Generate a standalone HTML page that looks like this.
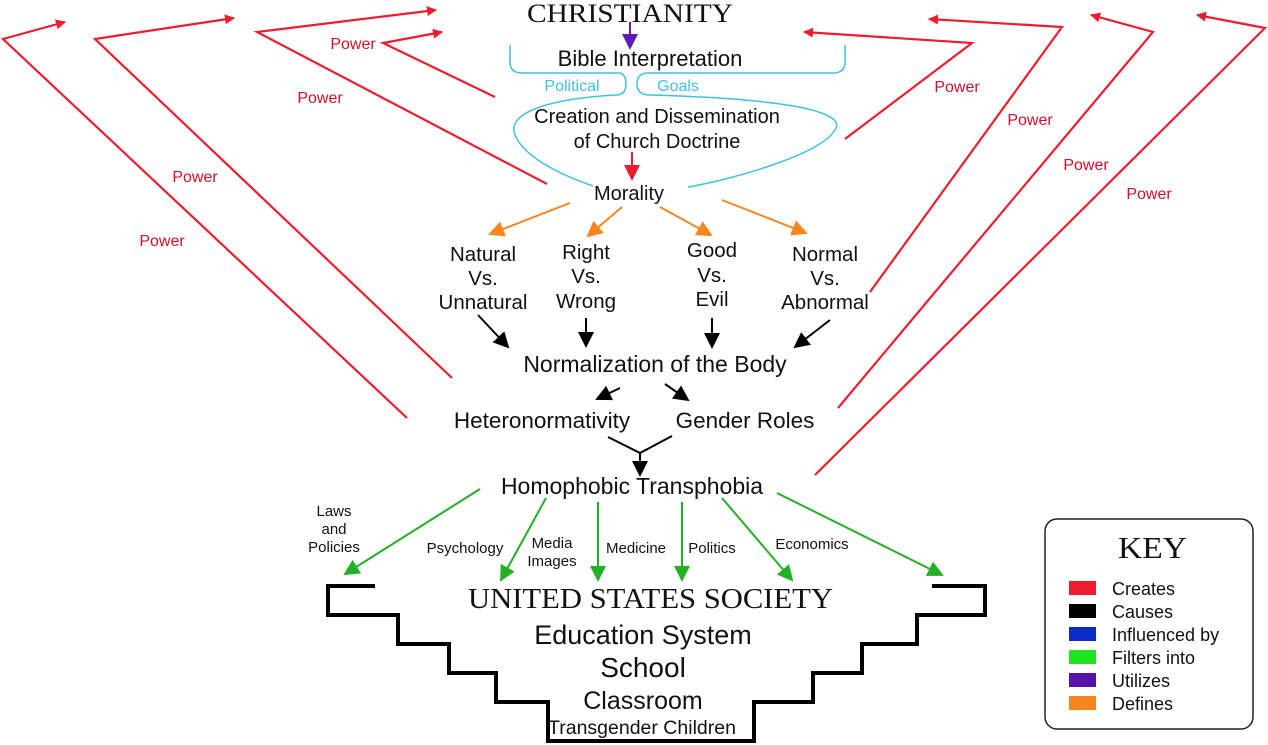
<!DOCTYPE html>
<html><head><meta charset="utf-8"><style>
html,body{margin:0;padding:0;background:#fff;}
svg{display:block;}
text{font-family:"Liberation Sans",sans-serif;fill:#111;}
.s{font-family:"Liberation Serif",serif;}
.p{fill:#d0102a;font-size:16px;}
</style></head><body>
<svg width="1268" height="745" viewBox="0 0 1268 745" xmlns="http://www.w3.org/2000/svg">
<defs>
<marker id="r" markerWidth="10" markerHeight="10" refX="9" refY="5" orient="auto" markerUnits="userSpaceOnUse"><path d="M0,0 L10,5 L0,10 z" fill="#ee1c2e"/></marker>
<marker id="o" markerWidth="16" markerHeight="16" refX="14" refY="8" orient="auto" markerUnits="userSpaceOnUse"><path d="M0,0 L16,8 L0,16 z" fill="#f7861f"/></marker>
<marker id="k" markerWidth="16" markerHeight="16" refX="14" refY="8" orient="auto" markerUnits="userSpaceOnUse"><path d="M0,0 L16,8 L0,16 z" fill="#000"/></marker>
<marker id="g" markerWidth="16" markerHeight="16" refX="14" refY="8" orient="auto" markerUnits="userSpaceOnUse"><path d="M0,0 L16,8 L0,16 z" fill="#22b024"/></marker>
<marker id="u" markerWidth="16" markerHeight="16" refX="14" refY="8" orient="auto" markerUnits="userSpaceOnUse"><path d="M0,0 L16,8 L0,16 z" fill="#5a1fb5"/></marker>
<marker id="rr" markerWidth="16" markerHeight="16" refX="14" refY="8" orient="auto" markerUnits="userSpaceOnUse"><path d="M0,0 L16,8 L0,16 z" fill="#ee1c2e"/></marker>
</defs>
<g fill="none" stroke="#ee1c2e" stroke-width="2.2">
<polyline points="407,418 3,39 65,22" marker-end="url(#r)"/>
<polyline points="452,378 95,39 234,18" marker-end="url(#r)"/>
<polyline points="547,184 257,32 436,10" marker-end="url(#r)"/>
<polyline points="495,97 383,43 442,32" marker-end="url(#r)"/>
<polyline points="845,139 972,43 804,32" marker-end="url(#r)"/>
<polyline points="870,292 1062,27 929,19" marker-end="url(#r)"/>
<polyline points="838,408 1153,32 1091,15" marker-end="url(#r)"/>
<polyline points="815,475 1265,28 1197,15" marker-end="url(#r)"/>
</g>
<text class="p" x="353" y="49" text-anchor="middle">Power</text>
<text class="p" x="320" y="103" text-anchor="middle">Power</text>
<text class="p" x="195" y="182" text-anchor="middle">Power</text>
<text class="p" x="162" y="246" text-anchor="middle">Power</text>
<text class="p" x="957" y="92" text-anchor="middle">Power</text>
<text class="p" x="1030" y="125" text-anchor="middle">Power</text>
<text class="p" x="1086" y="170" text-anchor="middle">Power</text>
<text class="p" x="1149" y="199" text-anchor="middle">Power</text>
<g fill="none" stroke="#3fc1e6" stroke-width="1.5">
<path d="M510,45 V62 Q510,73 522,73 H618 Q626,73 626,84 Q626,95 616,95 C560,98 505,110 515,135 C525,160 570,178 593,186"/>
<path d="M845,45 V62 Q845,73 833,73 H648 Q637,73 637,84 Q637,95 650,95 C760,98 850,108 835,130 C820,155 730,180 688,187"/>
</g>
<text x="572" y="91" text-anchor="middle" style="font-size:16px;fill:#3fc1e6">Political</text>
<text x="678" y="91" text-anchor="middle" style="font-size:16px;fill:#3fc1e6">Goals</text>
<text class="s" x="527" y="22" textLength="206" lengthAdjust="spacingAndGlyphs" style="font-size:26px">CHRISTIANITY</text>
<line x1="630" y1="22" x2="630" y2="48" stroke="#5a1fb5" stroke-width="2" marker-end="url(#u)"/>
<text x="650" y="66" text-anchor="middle" style="font-size:22px">Bible Interpretation</text>
<text x="657" y="123" text-anchor="middle" style="font-size:20px">Creation and Dissemination</text>
<text x="657" y="148" text-anchor="middle" style="font-size:20px">of Church Doctrine</text>
<line x1="632" y1="152" x2="632" y2="179" stroke="#ee1c2e" stroke-width="2" marker-end="url(#rr)"/>
<text x="629" y="200" text-anchor="middle" style="font-size:20px">Morality</text>
<g stroke="#f7861f" stroke-width="2">
<line x1="570" y1="203" x2="490" y2="234" marker-end="url(#o)"/>
<line x1="622" y1="207" x2="588" y2="236" marker-end="url(#o)"/>
<line x1="660" y1="207" x2="711" y2="235" marker-end="url(#o)"/>
<line x1="722" y1="200" x2="806" y2="233" marker-end="url(#o)"/>
</g>
<g style="font-size:20.5px" text-anchor="middle">
<text x="483" y="261">Natural</text><text x="483" y="285">Vs.</text><text x="483" y="309">Unnatural</text>
<text x="586" y="259">Right</text><text x="586" y="283">Vs.</text><text x="586" y="308">Wrong</text>
<text x="712" y="257">Good</text><text x="712" y="282">Vs.</text><text x="712" y="306">Evil</text>
<text x="825" y="261">Normal</text><text x="825" y="285">Vs.</text><text x="825" y="309">Abnormal</text>
</g>
<g stroke="#000" stroke-width="2">
<line x1="478" y1="315" x2="508" y2="347" marker-end="url(#k)"/>
<line x1="586" y1="318" x2="586" y2="346" marker-end="url(#k)"/>
<line x1="712" y1="318" x2="712" y2="347" marker-end="url(#k)"/>
<line x1="830" y1="320" x2="795" y2="347" marker-end="url(#k)"/>
<line x1="620" y1="388" x2="597" y2="399" marker-end="url(#k)"/>
<line x1="665" y1="384" x2="688" y2="400" marker-end="url(#k)"/>
<polyline points="608,437 640,453 672,436" fill="none"/>
<line x1="640" y1="453" x2="640" y2="475" marker-end="url(#k)"/>
</g>
<text x="655" y="372" text-anchor="middle" style="font-size:23px">Normalization of the Body</text>
<text x="542" y="428" text-anchor="middle" style="font-size:22.5px">Heteronormativity</text>
<text x="745" y="428" text-anchor="middle" style="font-size:22.5px">Gender Roles</text>
<text x="632" y="494" text-anchor="middle" style="font-size:23px">Homophobic Transphobia</text>
<g stroke="#22b024" stroke-width="2">
<line x1="480" y1="489" x2="345" y2="574" marker-end="url(#g)"/>
<line x1="546" y1="498" x2="501" y2="580" marker-end="url(#g)"/>
<line x1="598" y1="502" x2="598" y2="580" marker-end="url(#g)"/>
<line x1="682" y1="502" x2="682" y2="580" marker-end="url(#g)"/>
<line x1="722" y1="498" x2="792" y2="580" marker-end="url(#g)"/>
<line x1="777" y1="493" x2="942" y2="575" marker-end="url(#g)"/>
</g>
<g style="font-size:15px" text-anchor="middle">
<text x="334" y="516">Laws</text><text x="334" y="534">and</text><text x="334" y="552">Policies</text>
<text x="465" y="553">Psychology</text>
<text x="552" y="548">Media</text><text x="552" y="566">Images</text>
<text x="636" y="553">Medicine</text>
<text x="712" y="553">Politics</text>
<text x="812" y="549">Economics</text>
</g>
<path d="M375,586 H328 V615 H398 V644 H449 V673 H496 V702 H548 V741 H754 V702 H813 V673 H862 V644 H917 V615 H985 V586 H932" fill="none" stroke="#000" stroke-width="4"/>
<text class="s" x="468" y="608" textLength="365" lengthAdjust="spacingAndGlyphs" style="font-size:28px">UNITED STATES SOCIETY</text>
<text x="643" y="644" text-anchor="middle" style="font-size:27px">Education System</text>
<text x="643" y="677" text-anchor="middle" style="font-size:28px">School</text>
<text x="643" y="709" text-anchor="middle" style="font-size:25px">Classroom</text>
<text x="642" y="734" text-anchor="middle" style="font-size:19.5px">Transgender Children</text>
<rect x="1045" y="519" width="208" height="210" rx="12" fill="#fff" stroke="#222" stroke-width="1.5"/>
<text class="s" x="1118" y="558" textLength="69" lengthAdjust="spacingAndGlyphs" style="font-size:31px">KEY</text>
<g>
<rect x="1069" y="581" width="27" height="14" fill="#ee1c2e"/>
<rect x="1069" y="604" width="27" height="14" fill="#000"/>
<rect x="1069" y="627" width="27" height="14" fill="#0a2bc4"/>
<rect x="1069" y="650" width="27" height="14" fill="#1de41f"/>
<rect x="1069" y="673" width="27" height="14" fill="#5a13a8"/>
<rect x="1069" y="696" width="27" height="14" fill="#f7861f"/>
</g>
<g style="font-size:18px">
<text x="1112" y="595">Creates</text>
<text x="1112" y="618">Causes</text>
<text x="1112" y="641">Influenced by</text>
<text x="1112" y="664">Filters into</text>
<text x="1112" y="687">Utilizes</text>
<text x="1112" y="710">Defines</text>
</g>
</svg>
</body></html>
